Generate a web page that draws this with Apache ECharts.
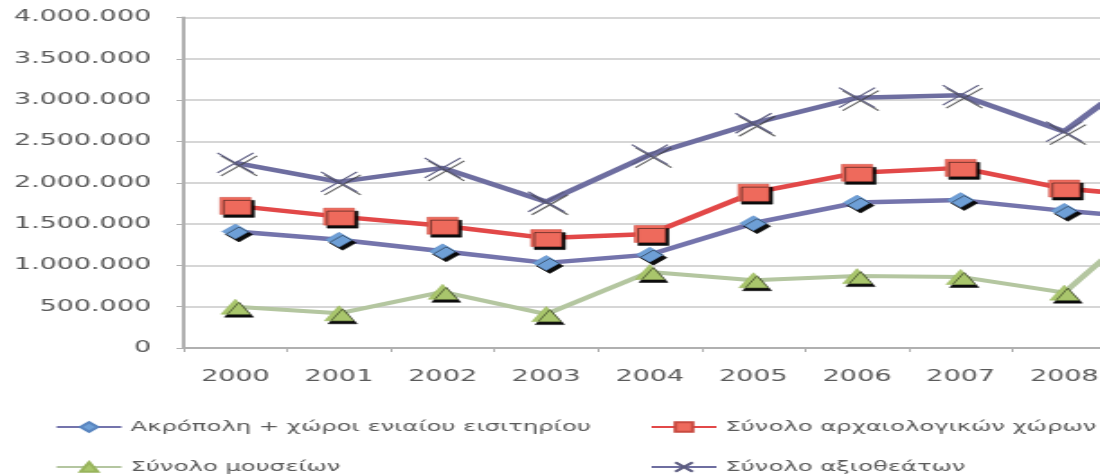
<!DOCTYPE html>
<html>
<head>
<meta charset="utf-8">
<script src="https://cdn.jsdelivr.net/npm/echarts@6/dist/echarts.min.js"></script>
<style>
  html, body { margin: 0; padding: 0; background: #ffffff; overflow: hidden; width: 1100px; height: 476px; }
  #c { width: 611.11px; height: 476px; transform: scaleX(1.8); transform-origin: 0 0; }
</style>
</head>
<body>
<div id="c"></div>
<script>
// ---- data ----
const years = ['2000', '2001', '2002', '2003', '2004', '2005', '2006', '2007', '2008', '2009'];
const acropolis = [1410000, 1310000, 1170000, 1030000, 1130000, 1510000, 1760000, 1790000, 1660000, 1560000];
const archaeological = [1720000, 1590000, 1480000, 1330000, 1380000, 1880000, 2120000, 2180000, 1930000, 1820000];
const museums = [500000, 420000, 680000, 410000, 920000, 820000, 870000, 860000, 670000, 1750000];
const totalSights = [2240000, 2010000, 2180000, 1770000, 2340000, 2720000, 3030000, 3060000, 2620000, 3550000];
const yTicks = { min: 0, max: 4000000, interval: 500000 };
const seriesNames = [
  'Ακρόπολη + χώροι ενιαίου εισιτηρίου',
  'Σύνολο αρχαιολογικών χώρων',
  'Σύνολο μουσείων',
  'Σύνολο αξιοθεάτων'
];

const FONT = 'DejaVu Sans';
const TXT = '#5a5a5a';
const chart = echarts.init(document.getElementById('c'));

function fmt(v) {
  return String(v).replace(/\B(?=(\d{3})+(?!\d))/g, '.');
}

const shadow = { shadowColor: 'rgba(0,0,0,0.95)', shadowBlur: 0, shadowOffsetX: 2, shadowOffsetY: 3 };

function legendAt(name, left, top) {
  return {
    data: [name],
    left: left, top: top,
    orient: 'horizontal',
    padding: 0,
    itemWidth: 36, itemHeight: 12, itemGap: 5,
    itemStyle: { shadowOffsetX: 0, shadowOffsetY: 0, shadowColor: 'transparent' },
    textStyle: { fontFamily: FONT, fontSize: 13.5, color: TXT },
    selectedMode: false
  };
}

chart.setOption({
  animation: false,
  backgroundColor: '#ffffff',
  grid: { left: 102, width: 575.6, top: 17.5, bottom: 128, containLabel: false, outerBoundsMode: 'none' },
  legend: [
    legendAt(seriesNames[0], 30.5, 420),
    legendAt(seriesNames[1], 361, 420),
    legendAt(seriesNames[2], 30.5, 460),
    legendAt(seriesNames[3], 361, 460)
  ],
  xAxis: {
    type: 'category',
    data: years,
    boundaryGap: true,
    axisLine: { show: true, lineStyle: { color: '#b0b0b0', width: 2 } },
    axisTick: { show: true, alignWithLabel: false, length: 4, lineStyle: { color: '#b0b0b0', width: 1 } },
    axisLabel: { fontFamily: FONT, fontSize: 15, color: TXT, margin: 22 },
    splitLine: { show: false }
  },
  yAxis: {
    type: 'value',
    min: yTicks.min, max: yTicks.max, interval: yTicks.interval,
    axisLine: { show: true, lineStyle: { color: '#b0b0b0', width: 2 } },
    axisTick: { show: true, length: 4, lineStyle: { color: '#b0b0b0', width: 1 } },
    axisLabel: { fontFamily: FONT, fontSize: 15, color: TXT, margin: 18, formatter: fmt },
    splitLine: { show: true, lineStyle: { color: '#c8c8c8', width: 1.5 } }
  },
  series: [
    {
      name: seriesNames[0], type: 'line', data: acropolis,
      symbol: 'diamond', symbolSize: [15, 15],
      lineStyle: { color: '#7474ac', width: 4.5 },
      itemStyle: Object.assign({ color: '#6e9fd6', borderColor: '#5a86c0', borderWidth: 0.5 }, shadow),
      z: 3
    },
    {
      name: seriesNames[1], type: 'line', data: archaeological,
      symbol: 'rect', symbolSize: [17, 17],
      lineStyle: { color: '#e24848', width: 4.5 },
      itemStyle: Object.assign({ color: '#ee6a5c', borderColor: '#c84a40', borderWidth: 0.5 }, shadow),
      z: 4
    },
    {
      name: seriesNames[2], type: 'line', data: museums,
      symbol: 'triangle', symbolSize: [16, 15],
      lineStyle: { color: '#b4c6a0', width: 4 },
      itemStyle: Object.assign({ color: '#a9c66c', borderColor: '#98b45c', borderWidth: 0.5 }, shadow),
      z: 2
    },
    {
      name: seriesNames[3], type: 'line', data: totalSights,
      symbol: 'path://M0,0L10,10M10,0L0,10', symbolSize: [20, 20],
      lineStyle: { color: '#6e6ea0', width: 4.5 },
      itemStyle: Object.assign({ color: '#5c5c80', borderColor: '#5c5c80', borderWidth: 1.1 },
        { shadowColor: 'rgba(60,60,60,0.8)', shadowBlur: 0, shadowOffsetX: 2, shadowOffsetY: 3 }),
      z: 5
    }
  ]
});
</script>
</body>
</html>
